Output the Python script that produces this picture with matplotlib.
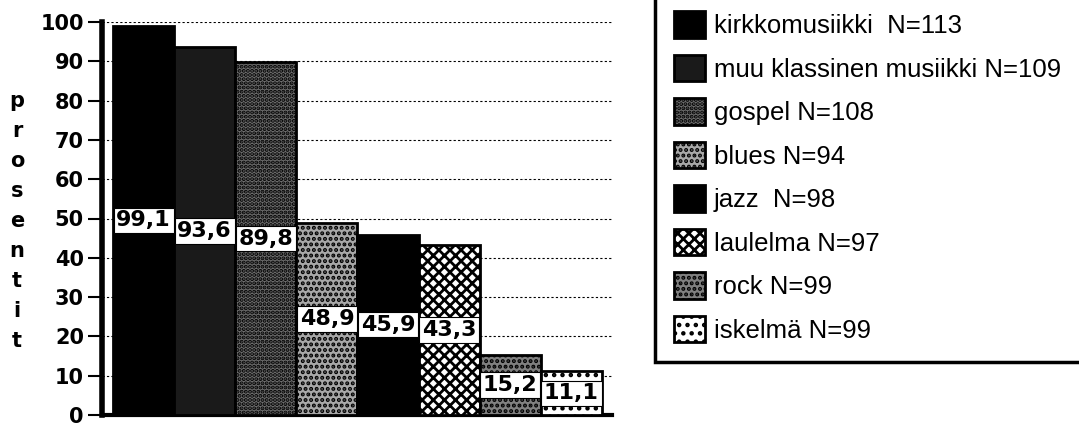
import matplotlib
matplotlib.use("Agg")
import matplotlib.pyplot as plt
import matplotlib.transforms as mtransforms

genres = ["kirkkomusiikki  N=113", "muu klassinen musiikki N=109", "gospel N=108",
          "blues N=94", "jazz  N=98", "laulelma N=97", "rock N=99", "iskelmä N=99"]
values = [99.1, 93.6, 89.8, 48.9, 45.9, 43.3, 15.2, 11.1]
value_labels = ["99,1", "93,6", "89,8", "48,9", "45,9", "43,3", "15,2", "11,1"]
yticks = [0, 10, 20, 30, 40, 50, 60, 70, 80, 90, 100]

# fill / hatch per bar (old b/w print look)
faces = ["#000000", "#1a1a1a", "#6e6e6e", "#a8a8a8", "#000000", "#ffffff", "#808080", "#ffffff"]
hatches = [None, None, "....", "...", None, "xxx", "...", ".."]

plt.rcParams["hatch.linewidth"] = 2.0

fig = plt.figure(figsize=(10.79, 4.24), dpi=100)
ax = fig.add_axes([102 / 1079, 1 - 415 / 424, 510 / 1079, 393 / 424])

x = list(range(len(values)))
bars = ax.bar(x, values, width=1.0, color=faces, edgecolor="black", linewidth=2, zorder=3)
for b, h in zip(bars, hatches):
    if h:
        b.set_hatch(h)

for xi, v, lab in zip(x, values, value_labels):
    ax.text(xi, v / 2, lab, ha="center", va="center", fontsize=16, fontweight="bold",
            zorder=5,
            bbox=dict(boxstyle="square,pad=0.12", fc="white", ec="black", lw=0.8))

ax.set_xlim(-0.68, 7.664)
ax.set_ylim(0, 100)
ax.set_yticks(yticks)
ax.set_xticks([])
ax.yaxis.grid(True, linestyle=(0, (2, 2)), color="black", linewidth=0.8)
ax.set_axisbelow(True)
for s in ["top", "right"]:
    ax.spines[s].set_visible(False)
ax.spines["left"].set_linewidth(4)
ax.spines["bottom"].set_linewidth(3)
ax.tick_params(axis="y", direction="out", length=10, width=1.5, pad=3)
for t in ax.get_yticklabels():
    t.set_fontsize(15)
    t.set_fontweight("bold")

# vertical axis title, one letter per line
trans = mtransforms.blended_transform_factory(fig.transFigure, ax.transData)
for i, ch in enumerate("prosentit"):
    ax.text(17 / 1079, 80 - i * 7.65, ch, transform=trans, ha="center", va="center",
            fontsize=15, fontweight="bold", clip_on=False)

leg = fig.legend(list(bars), genres, loc="upper left",
                 bbox_to_anchor=(655 / 1079, 1.019, 0.6, 0), mode="expand",
                 borderaxespad=0, fancybox=False, shadow=False,
                 prop={"family": "Liberation Sans", "size": 18.5},
                 handlelength=1.2, handleheight=1.2, labelspacing=0.65,
                 handletextpad=0.35, borderpad=0.75)
leg.get_frame().set_edgecolor("black")
leg.get_frame().set_linewidth(2.5)
leg.get_frame().set_alpha(None)

fig.savefig("out.png", dpi=100)
